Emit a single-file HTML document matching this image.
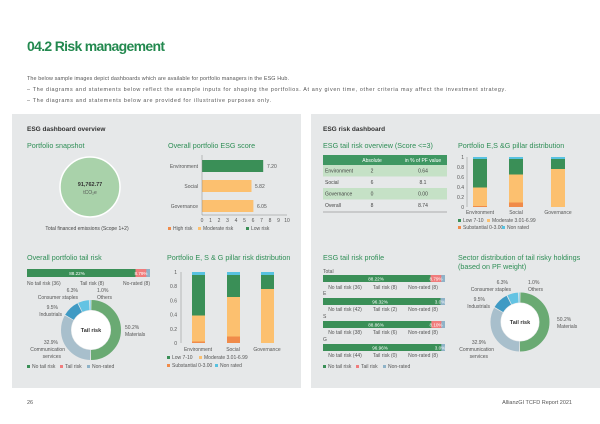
<!DOCTYPE html>
<html><head><meta charset="utf-8"><style>
html,body{margin:0;padding:0;background:#fff}
svg{display:block;font-family:"Liberation Sans",sans-serif}
</style></head><body>
<svg width="600" height="424" viewBox="0 0 600 424" xmlns="http://www.w3.org/2000/svg">
<rect width="600" height="424" fill="#fff"/>
<text x="27" y="51" font-size="14" font-weight="bold" fill="#23894f" textLength="138">04.2 Risk management</text>
<g font-size="5.4" fill="#555">
<text x="27" y="80" textLength="262">The below sample images depict dashboards which are available for portfolio managers in the ESG Hub.</text>
<text x="27" y="91" textLength="479">– The diagrams and statements below reflect the example inputs for shaping the portfolios. At any given time, other criteria may affect the investment strategy.</text>
<text x="27" y="102" textLength="244">– The diagrams and statements below are provided for illustrative purposes only.</text>
</g>
<rect x="12" y="114" width="289" height="274" fill="#e6e8e9"/>
<rect x="311" y="114" width="289" height="274" fill="#e6e8e9"/>
<text x="27" y="404" font-size="5.5" fill="#555">26</text>
<text x="572" y="404" font-size="5.5" fill="#555" text-anchor="end">AllianzGI TCFD Report 2021</text>

<text x="27" y="131" font-size="6.5" font-weight="bold" fill="#333">ESG dashboard overview</text>
<g font-size="7.2" fill="#2f8e56">
<text x="27" y="148">Portfolio snapshot</text>
<text x="168" y="148">Overall portfolio ESG score</text>
<text x="323" y="148">ESG tail risk overview (Score &lt;=3)</text>
<text x="458" y="148">Portfolio E,S &amp;G pillar distribution</text>
<text x="27" y="260">Overall portfolio tail risk</text>
<text x="167" y="260">Portfolio E, S &amp; G pillar risk distribution</text>
<text x="323" y="260">ESG tail risk profile</text>
<text x="458" y="260">Sector distribution of tail risky holdings</text>
<text x="458" y="269">(based on PF weight)</text>
</g>
<text x="323" y="131" font-size="6.5" font-weight="bold" fill="#333">ESG risk dashboard</text>

<circle cx="90" cy="187" r="30" fill="#a9d2aa" stroke="#fff" stroke-width="1.5"/>
<text x="90" y="186" font-size="5.5" font-weight="bold" fill="#333" text-anchor="middle">91,762.77</text>
<text x="90" y="194" font-size="5" fill="#555" text-anchor="middle">tCO₂e</text>
<text x="87" y="230" font-size="5" fill="#444" text-anchor="middle">Total financed emissions (Scope 1+2)</text>

<g font-size="5" fill="#555">
<rect x="202" y="160" width="61.2" height="12" fill="#3a8f57"/>
<rect x="202" y="180" width="49.5" height="12" fill="#fcc06f"/>
<rect x="202" y="200" width="51.4" height="12" fill="#fcc06f"/>
<text x="198" y="168" text-anchor="end">Environment</text>
<text x="198" y="188" text-anchor="end">Social</text>
<text x="198" y="208" text-anchor="end">Governance</text>
<text x="267" y="168">7.20</text><text x="255" y="188">5.82</text><text x="257" y="208">6.05</text>
<line x1="202" y1="155" x2="202" y2="215" stroke="#888" stroke-width="0.5"/>
<line x1="202" y1="215" x2="287" y2="215" stroke="#888" stroke-width="0.5"/>
<g text-anchor="middle">
<text x="202" y="222">0</text><text x="210.5" y="222">1</text><text x="219" y="222">2</text><text x="227.5" y="222">3</text><text x="236" y="222">4</text><text x="244.5" y="222">5</text><text x="253" y="222">6</text><text x="261.5" y="222">7</text><text x="270" y="222">8</text><text x="278.5" y="222">9</text><text x="287" y="222">10</text>
</g>
<rect x="168" y="227" width="3" height="3" fill="#f08b4a"/><text x="173" y="230">High risk</text>
<rect x="198" y="227" width="3" height="3" fill="#fcc06f"/><text x="203" y="230">Moderate risk</text>
<rect x="246" y="227" width="3" height="3" fill="#3a8f57"/><text x="251" y="230">Low risk</text>
</g>

<g font-size="5" fill="#444">
<rect x="323" y="155" width="124" height="10" fill="#3f9762"/>
<text x="372" y="162" fill="#fff" text-anchor="middle">Absolute</text>
<text x="423" y="162" fill="#fff" text-anchor="middle">in % of PF value</text>
<rect x="323" y="165" width="124" height="11.5" fill="#c5e1c6"/>
<rect x="323" y="188" width="124" height="11.5" fill="#c5e1c6"/>
<text x="325" y="172.5">Environment</text><text x="372" y="172.5" text-anchor="middle">2</text><text x="423" y="172.5" text-anchor="middle">0.64</text>
<text x="325" y="184">Social</text><text x="372" y="184" text-anchor="middle">6</text><text x="423" y="184" text-anchor="middle">8.1</text>
<text x="325" y="195.5">Governance</text><text x="372" y="195.5" text-anchor="middle">0</text><text x="423" y="195.5" text-anchor="middle">0.00</text>
<text x="325" y="207">Overall</text><text x="372" y="207" text-anchor="middle">8</text><text x="423" y="207" text-anchor="middle">8.74</text>
<line x1="323" y1="212" x2="447" y2="212" stroke="#999" stroke-width="0.8"/>
</g>

<g font-size="5" fill="#555">
<line x1="467" y1="157" x2="467" y2="207" stroke="#888" stroke-width="0.5"/>
<g text-anchor="end">
<text x="464" y="159">1</text><text x="464" y="169">0.8</text><text x="464" y="179">0.6</text><text x="464" y="189">0.4</text><text x="464" y="199">0.2</text><text x="464" y="209">0</text>
</g>
<rect x="473" y="157" width="14" height="2" fill="#58c2e0"/>
<rect x="473" y="159" width="14" height="28.5" fill="#3a8f57"/>
<rect x="473" y="187.5" width="14" height="18.5" fill="#fcc06f"/>
<rect x="473" y="206" width="14" height="1" fill="#f08b4a"/>
<rect x="509" y="157" width="14" height="2" fill="#58c2e0"/>
<rect x="509" y="159" width="14" height="15.5" fill="#3a8f57"/>
<rect x="509" y="174.5" width="14" height="28" fill="#fcc06f"/>
<rect x="509" y="202.5" width="14" height="4.5" fill="#f08b4a"/>
<rect x="551" y="157" width="14" height="2" fill="#58c2e0"/>
<rect x="551" y="159" width="14" height="10" fill="#3a8f57"/>
<rect x="551" y="169" width="14" height="38" fill="#fcc06f"/>
<g text-anchor="middle"><text x="480" y="214">Environment</text><text x="516" y="214">Social</text><text x="558" y="214">Governance</text></g>
<rect x="458" y="219" width="3" height="3" fill="#3a8f57"/><text x="463" y="222">Low 7-10</text>
<rect x="487" y="219" width="3" height="3" fill="#fcc06f"/><text x="492" y="222">Moderate 3.01-6.99</text>
<rect x="458" y="226" width="3" height="3" fill="#f08b4a"/><text x="463" y="229">Substantial 0-3.00</text>
<rect x="502" y="226" width="3" height="3" fill="#58c2e0"/><text x="507" y="229">Non rated</text>
</g>

<g font-size="5" fill="#555">
<rect x="27" y="269" width="123" height="8" fill="#8fb3c8"/>
<rect x="27" y="269" width="108.5" height="8" fill="#3a8f57"/>
<rect x="135.5" y="269" width="10.8" height="8" fill="#f07c7c"/>
<text x="77" y="275" fill="#fff" text-anchor="middle" font-size="4.6">88.22%</text>
<text x="141" y="275" fill="#fff" text-anchor="middle" font-size="4.6">8.79%</text>
<text x="27" y="285">No tail risk (36)</text>
<text x="92" y="285" text-anchor="middle">Tail risk (8)</text>
<text x="150" y="285" text-anchor="end">No-rated (8)</text>
</g>

<g transform="translate(91,330) rotate(-90)" fill="none" stroke-width="10">
<circle r="25" stroke="#6aaa73" stroke-dasharray="78 200" stroke-dashoffset="-0.4"/>
<circle r="25" stroke="#a8bfcc" stroke-dasharray="51 200" stroke-dashoffset="-79.2"/>
<circle r="25" stroke="#3f9ac4" stroke-dasharray="14.2 200" stroke-dashoffset="-130.9"/>
<circle r="25" stroke="#63c3e3" stroke-dasharray="9.2 200" stroke-dashoffset="-145.8"/>
<circle r="25" stroke="#9ed8ea" stroke-dasharray="1.2 200" stroke-dashoffset="-155.6"/>
</g>
<circle cx="91" cy="330" r="19.5" fill="#fff"/>
<text x="91" y="332" font-size="5.5" font-weight="bold" fill="#333" text-anchor="middle">Tail risk</text>
<g font-size="5" fill="#555">
<text x="78" y="292" text-anchor="end">6.3%</text><text x="78" y="299" text-anchor="end">Consumer staples</text>
<text x="97" y="292">1.0%</text><text x="97" y="299">Others</text>
<text x="58" y="309" text-anchor="end">9.5%</text><text x="62" y="316" text-anchor="end">Industrials</text>
<text x="125" y="329">50.2%</text><text x="125" y="336">Materials</text>
<text x="58" y="344" text-anchor="end">32.9%</text><text x="65" y="351" text-anchor="end">Communication</text><text x="61" y="358" text-anchor="end">services</text>
<rect x="27" y="365" width="3" height="3" fill="#3a8f57"/><text x="32" y="368">No tail risk</text>
<rect x="60" y="365" width="3" height="3" fill="#f07c7c"/><text x="65" y="368">Tail risk</text>
<rect x="87" y="365" width="3" height="3" fill="#8fb3c8"/><text x="92" y="368">Non-rated</text>
</g>

<g font-size="5" fill="#555">
<line x1="181" y1="272" x2="181" y2="343" stroke="#888" stroke-width="0.5"/>
<g text-anchor="end">
<text x="177" y="274">1</text><text x="177" y="288">0.8</text><text x="177" y="302.5">0.6</text><text x="177" y="316.5">0.4</text><text x="177" y="331">0.2</text><text x="177" y="345">0</text>
</g>
<rect x="192" y="272" width="13" height="3" fill="#58c2e0"/>
<rect x="192" y="275" width="13" height="40.5" fill="#3a8f57"/>
<rect x="192" y="315.5" width="13" height="26" fill="#fcc06f"/>
<rect x="192" y="341.5" width="13" height="1.5" fill="#f08b4a"/>
<rect x="227" y="272" width="13" height="3" fill="#58c2e0"/>
<rect x="227" y="275" width="13" height="22" fill="#3a8f57"/>
<rect x="227" y="297" width="13" height="39.5" fill="#fcc06f"/>
<rect x="227" y="336.5" width="13" height="6.5" fill="#f08b4a"/>
<rect x="261" y="272" width="13" height="3" fill="#58c2e0"/>
<rect x="261" y="275" width="13" height="14" fill="#3a8f57"/>
<rect x="261" y="289" width="13" height="54" fill="#fcc06f"/>
<g text-anchor="middle"><text x="198" y="351">Environment</text><text x="233" y="351">Social</text><text x="267" y="351">Governance</text></g>
<rect x="167" y="356" width="3" height="3" fill="#3a8f57"/><text x="172" y="359">Low 7-10</text>
<rect x="199" y="356" width="3" height="3" fill="#fcc06f"/><text x="204" y="359">Moderate 3.01-6.99</text>
<rect x="167" y="364" width="3" height="3" fill="#f08b4a"/><text x="172" y="367">Substantial 0-3.00</text>
<rect x="215" y="364" width="3" height="3" fill="#58c2e0"/><text x="220" y="367">Non rated</text>
</g>

<g font-size="5" fill="#555">
<text x="323" y="273">Total</text>
<rect x="323" y="275" width="122" height="7" fill="#8fb3c8"/><rect x="323" y="275" width="107.6" height="7" fill="#3a8f57"/><rect x="430.6" y="275" width="10.7" height="7" fill="#f07c7c"/>
<text x="376" y="280.5" fill="#fff" text-anchor="middle" font-size="4.6">88.22%</text><text x="436" y="280.5" fill="#fff" text-anchor="middle" font-size="4.6">8.79%</text>
<text x="345" y="289" text-anchor="middle">No tail risk (36)</text><text x="385" y="289" text-anchor="middle">Tail risk (8)</text><text x="423" y="289" text-anchor="middle">Non-rated (8)</text>
<text x="323" y="295">E</text>
<rect x="323" y="298" width="122" height="7" fill="#8fb3c8"/><rect x="323" y="298" width="117.5" height="7" fill="#3a8f57"/>
<text x="380" y="303.5" fill="#fff" text-anchor="middle" font-size="4.6">96.32%</text><text x="440" y="303.5" fill="#fff" text-anchor="middle" font-size="4.6">3.0%</text>
<text x="345" y="311" text-anchor="middle">No tail risk (42)</text><text x="385" y="311" text-anchor="middle">Tail risk (2)</text><text x="423" y="311" text-anchor="middle">Non-rated (8)</text>
<text x="323" y="318">S</text>
<rect x="323" y="321" width="122" height="7" fill="#8fb3c8"/><rect x="323" y="321" width="108.4" height="7" fill="#3a8f57"/><rect x="431.4" y="321" width="10" height="7" fill="#f07c7c"/>
<text x="376" y="326.5" fill="#fff" text-anchor="middle" font-size="4.6">88.86%</text><text x="436" y="326.5" fill="#fff" text-anchor="middle" font-size="4.6">8.10%</text>
<text x="345" y="334" text-anchor="middle">No tail risk (38)</text><text x="385" y="334" text-anchor="middle">Tail risk (6)</text><text x="423" y="334" text-anchor="middle">Non-rated (8)</text>
<text x="323" y="341">G</text>
<rect x="323" y="344" width="122" height="7" fill="#8fb3c8"/><rect x="323" y="344" width="118.3" height="7" fill="#3a8f57"/>
<text x="380" y="349.5" fill="#fff" text-anchor="middle" font-size="4.6">96.96%</text><text x="440" y="349.5" fill="#fff" text-anchor="middle" font-size="4.6">3.0%</text>
<text x="345" y="357" text-anchor="middle">No tail risk (44)</text><text x="385" y="357" text-anchor="middle">Tail risk (0)</text><text x="423" y="357" text-anchor="middle">Non-rated (8)</text>
<rect x="323" y="365" width="3" height="3" fill="#3a8f57"/><text x="328" y="368">No tail risk</text>
<rect x="356" y="365" width="3" height="3" fill="#f07c7c"/><text x="361" y="368">Tail risk</text>
<rect x="383" y="365" width="3" height="3" fill="#8fb3c8"/><text x="388" y="368">Non-rated</text>
</g>

<g transform="translate(520,322) rotate(-90)" fill="none" stroke-width="10">
<circle r="24.5" stroke="#6aaa73" stroke-dasharray="76.5 200" stroke-dashoffset="-0.4"/>
<circle r="24.5" stroke="#a8bfcc" stroke-dasharray="49.8 200" stroke-dashoffset="-77.7"/>
<circle r="24.5" stroke="#3f9ac4" stroke-dasharray="13.8 200" stroke-dashoffset="-128.3"/>
<circle r="24.5" stroke="#63c3e3" stroke-dasharray="9 200" stroke-dashoffset="-142.9"/>
<circle r="24.5" stroke="#9ed8ea" stroke-dasharray="1.2 200" stroke-dashoffset="-152.5"/>
</g>
<circle cx="520" cy="322" r="19" fill="#fff"/>
<text x="520" y="324" font-size="5.5" font-weight="bold" fill="#333" text-anchor="middle">Tail risk</text>
<g font-size="5" fill="#555">
<text x="508" y="284" text-anchor="end">6.3%</text><text x="511" y="291" text-anchor="end">Consumer staples</text>
<text x="528" y="284">1.0%</text><text x="528" y="291">Others</text>
<text x="485" y="301" text-anchor="end">9.5%</text><text x="490" y="308" text-anchor="end">Industrials</text>
<text x="557" y="321">50.2%</text><text x="557" y="328">Materials</text>
<text x="486" y="344" text-anchor="end">32.9%</text><text x="494" y="351" text-anchor="end">Communication</text><text x="488" y="358" text-anchor="end">services</text>
</g>
</svg>
</body></html>
